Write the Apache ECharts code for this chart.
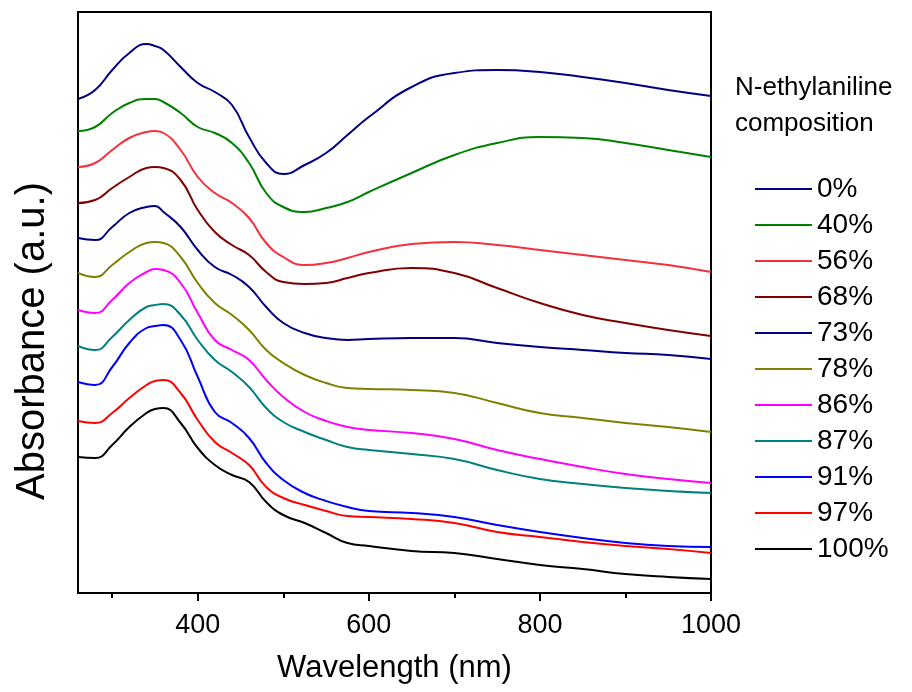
<!doctype html>
<html>
<head>
<meta charset="utf-8">
<script src="https://cdn.jsdelivr.net/npm/echarts@6/dist/echarts.min.js"></script>
<style>
  html, body { margin: 0; padding: 0; background: #fff; }
  #chart { width: 912px; height: 692px; }
</style>
</head>
<body>
<div id="chart"></div>
<script>
// wavelength grid (nm)
var wavelengths = [260, 280, 300, 320, 340, 350, 360, 380, 400, 420, 440, 460, 480, 500,
                   525, 550, 575, 600, 650, 700, 750, 800, 850, 900, 950, 1000];

// absorbance (a.u., stacked offsets as in the figure)
var a0   = [4.94, 5.03, 5.23, 5.40, 5.49, 5.47, 5.43, 5.26, 5.10, 5.01, 4.88, 4.56, 4.30, 4.19, 4.28, 4.40, 4.58, 4.76, 5.06, 5.20, 5.23, 5.21, 5.16, 5.10, 5.03, 4.97];
var a40  = [4.62, 4.66, 4.80, 4.90, 4.94, 4.94, 4.91, 4.80, 4.66, 4.60, 4.50, 4.30, 4.00, 3.86, 3.81, 3.85, 3.91, 4.01, 4.20, 4.38, 4.50, 4.56, 4.55, 4.50, 4.43, 4.36];
var a56  = [4.26, 4.30, 4.43, 4.55, 4.61, 4.62, 4.60, 4.43, 4.16, 4.00, 3.90, 3.75, 3.50, 3.36, 3.28, 3.30, 3.35, 3.41, 3.49, 3.51, 3.48, 3.43, 3.38, 3.33, 3.28, 3.21];
var a68  = [3.90, 3.93, 4.05, 4.16, 4.25, 4.26, 4.25, 4.13, 3.83, 3.61, 3.48, 3.38, 3.21, 3.11, 3.09, 3.10, 3.15, 3.20, 3.25, 3.20, 3.05, 2.90, 2.78, 2.70, 2.63, 2.57];
var a73  = [3.55, 3.53, 3.66, 3.80, 3.86, 3.87, 3.81, 3.66, 3.43, 3.26, 3.18, 3.06, 2.86, 2.70, 2.60, 2.55, 2.53, 2.54, 2.55, 2.55, 2.50, 2.46, 2.43, 2.40, 2.38, 2.34];
var a78  = [3.20, 3.16, 3.28, 3.41, 3.50, 3.51, 3.50, 3.36, 3.10, 2.90, 2.78, 2.63, 2.43, 2.30, 2.18, 2.10, 2.05, 2.04, 2.03, 2.00, 1.90, 1.80, 1.75, 1.70, 1.66, 1.61];
var a86  = [2.83, 2.80, 2.93, 3.10, 3.21, 3.24, 3.23, 3.10, 2.80, 2.53, 2.43, 2.33, 2.13, 1.96, 1.81, 1.72, 1.66, 1.63, 1.60, 1.54, 1.43, 1.34, 1.26, 1.19, 1.14, 1.10];
var a87  = [2.47, 2.43, 2.56, 2.73, 2.86, 2.88, 2.89, 2.78, 2.53, 2.33, 2.21, 2.06, 1.85, 1.71, 1.61, 1.53, 1.46, 1.43, 1.39, 1.34, 1.23, 1.14, 1.09, 1.05, 1.02, 1.00];
var a91  = [2.11, 2.08, 2.26, 2.50, 2.65, 2.67, 2.68, 2.53, 2.16, 1.81, 1.70, 1.55, 1.30, 1.13, 1.00, 0.92, 0.86, 0.82, 0.80, 0.76, 0.68, 0.61, 0.55, 0.50, 0.47, 0.46];
var a97  = [1.72, 1.70, 1.80, 1.95, 2.08, 2.12, 2.13, 2.00, 1.73, 1.51, 1.40, 1.28, 1.06, 0.95, 0.88, 0.82, 0.77, 0.76, 0.74, 0.70, 0.61, 0.56, 0.51, 0.47, 0.44, 0.40];
var a100 = [1.36, 1.35, 1.48, 1.66, 1.80, 1.84, 1.85, 1.70, 1.45, 1.28, 1.18, 1.11, 0.91, 0.78, 0.70, 0.60, 0.50, 0.47, 0.42, 0.40, 0.34, 0.28, 0.24, 0.19, 0.16, 0.14];

var names  = ['0%', '40%', '56%', '68%', '73%', '78%', '86%', '87%', '91%', '97%', '100%'];
var values = [a0, a40, a56, a68, a73, a78, a86, a87, a91, a97, a100];
var colors = ['#000080', '#008000', '#f5303c', '#800000', '#000080', '#808000',
              '#ff00ff', '#008080', '#0000ff', '#ff0000', '#000000'];

var majorTicks = [400, 600, 800, 1000];
var minorTicks = [300, 500, 700, 900];

var font = 'Liberation Sans, Arial, sans-serif';

var series = [];
for (var i = 0; i < names.length; i++) {
    var pts = [];
    for (var j = 0; j < wavelengths.length; j++) {
        pts.push([wavelengths[j], values[i][j]]);
    }
    series.push({
        name: names[i],
        type: 'line',
        data: pts,
        smooth: 0.5,
        showSymbol: false,
        symbol: 'none',
        lineStyle: { color: colors[i], width: 2 },
        itemStyle: { color: colors[i] },
        animation: false
    });
}

var myChart = echarts.init(document.getElementById('chart'));
var option = {
    backgroundColor: '#fff',
    animation: false,
    grid: {
        left: 78, top: 12, right: 201, bottom: 99,
        outerBoundsMode: 'none',
        containLabel: false,
        show: true, borderColor: '#000', borderWidth: 2
    },
    xAxis: [{
        type: 'value', min: 260, max: 1000,
        axisLine: { lineStyle: { color: '#000', width: 2 } },
        axisTick: { show: true, length: 8, customValues: majorTicks, lineStyle: { color: '#000', width: 2 } },
        axisLabel: {
            customValues: majorTicks, fontSize: 27, color: '#000', fontFamily: font, margin: 19,
            formatter: function (v) { return String(v); }
        },
        splitLine: { show: false },
        name: 'Wavelength (nm)',
        nameLocation: 'middle',
        nameGap: 60,
        nameTextStyle: { fontSize: 31, color: '#000', fontFamily: font, verticalAlign: 'top' }
    }, {
        type: 'value', min: 260, max: 1000, position: 'bottom',
        axisLine: { show: false },
        axisTick: { show: true, length: 5, customValues: minorTicks, lineStyle: { color: '#000', width: 2 } },
        axisLabel: { show: false },
        splitLine: { show: false }
    }],
    yAxis: {
        type: 'value', min: 0, max: 5.81,
        axisLine: { show: true, lineStyle: { color: '#000', width: 2 } },
        axisTick: { show: false },
        axisLabel: { show: false },
        splitLine: { show: false }
    },
    legend: {
        data: names,
        orient: 'vertical',
        left: 755,
        top: 175,
        padding: 0,
        icon: 'rect',
        itemWidth: 57,
        itemHeight: 2,
        itemGap: 8,
        selectedMode: false,
        textStyle: { fontSize: 28, lineHeight: 26, color: '#000', fontFamily: font }
    },
    graphic: [{
        type: 'text',
        left: 735, top: 70,
        style: {
            text: 'N-ethylaniline\ncomposition',
            fontSize: 26, lineHeight: 36, fill: '#000', fontFamily: font
        }
    }, {
        type: 'text',
        x: 33, y: 341,
        rotation: Math.PI / 2,
        style: {
            text: 'Absorbance (a.u.)',
            fontSize: 40, fill: '#000', fontFamily: font,
            align: 'center', verticalAlign: 'middle'
        }
    }],
    series: series
};
myChart.setOption(option);
</script>
</body>
</html>
